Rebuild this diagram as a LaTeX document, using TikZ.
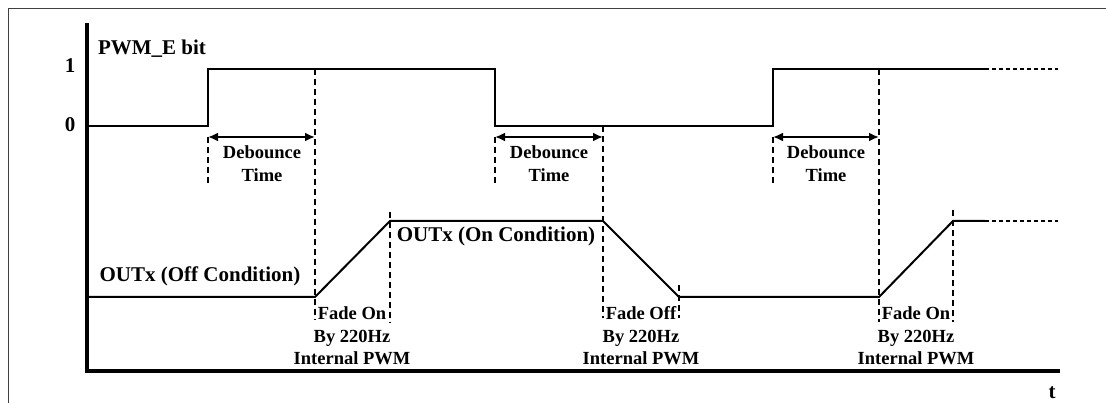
\documentclass[tikz,border=0pt]{standalone}
\usepackage{fontspec}
\setmainfont{Liberation Serif}
\usetikzlibrary{arrows.meta}
\begin{document}
\begin{tikzpicture}[x=1pt,y=-1pt,
  frame/.style={draw=black!75,line width=1pt},
  axis/.style={line width=3.2pt},
  sig/.style={line width=2pt,line join=miter},
  tail/.style={line width=2pt,dash pattern=on 4pt off 3pt},
  guide/.style={line width=1.6pt,dash pattern=on 6.5pt off 3.5pt},
  span/.style={line width=2pt,{Latex[length=10pt,width=9pt]}-{Latex[length=10pt,width=9pt]}},
  small/.style={font=\bfseries\fontsize{18.5}{22}\selectfont,align=center,inner sep=0pt,anchor=base},
  big/.style={font=\bfseries\fontsize{21}{24}\selectfont,inner sep=0pt,anchor=base}]
\useasboundingbox (0,0) rectangle (1106,403);
% frame
\draw[frame] (8,403) -- (8,9) -- (1106,9);
% axes
\draw[axis] (87,23) -- (87,371) -- (1060,371);
\node[big] (t) at (1052,399) {t};
% labels upper
\node[big] (pwm) at (152,55) {PWM\_E bit};
\node[big] (one) at (70,73) {1};
\node[big] (zero) at (70,132) {0};
% PWM_E signal
\draw[sig] (89,126) -- (208,126) -- (208,69) -- (495,69) -- (495,126) -- (773,126) -- (773,69) -- (985,69);
\draw[tail] (985,69) -- (1058,69);
% guides upper
\draw[guide] (208,137) -- (208,184);
\draw[guide] (495,137) -- (495,184);
\draw[guide] (773,137) -- (773,184);
\draw[guide] (315,69) -- (315,320);
\draw[guide] (603,126) -- (603,318);
\draw[guide] (879,69) -- (879,322);
% debounce spans
\coordinate (d1a) at (208,137); \coordinate (d1b) at (315,137);
\coordinate (d2a) at (495,137); \coordinate (d2b) at (603,137);
\coordinate (d3a) at (773,137); \coordinate (d3b) at (879,137);
\draw[span] (d1a) -- (d1b);
\draw[span] (d2a) -- (d2b);
\draw[span] (d3a) -- (d3b);
\node[small] (db1) at (262,182) {Debounce\\[1pt]Time};
\node[small] (db2) at (549,182) {Debounce\\[1pt]Time};
\node[small] (db3) at (826,182) {Debounce\\[1pt]Time};
% OUTx signal
\draw[sig] (89,297) -- (315,297) -- (390,221) -- (603,221) -- (679,297) -- (879,297) -- (953,221) -- (985,221);
\draw[tail] (985,221) -- (1058,221);
% guides lower
\draw[guide] (390,212) -- (390,323);
\draw[guide] (679,285) -- (679,318);
\draw[guide] (953,210) -- (953,322);
% labels lower
\node[big] (off) at (200,282) {OUTx (Off Condition)};
\node[big] (on) at (496,242) {OUTx (On Condition)};
\node[small] (f1) at (352,364) {Fade On\\By 220Hz\\Internal PWM};
\node[small] (f2) at (641,364) {Fade Off\\By 220Hz\\Internal PWM};
\node[small] (f3) at (916,364) {Fade On\\By 220Hz\\Internal PWM};
\end{tikzpicture}
\end{document}
